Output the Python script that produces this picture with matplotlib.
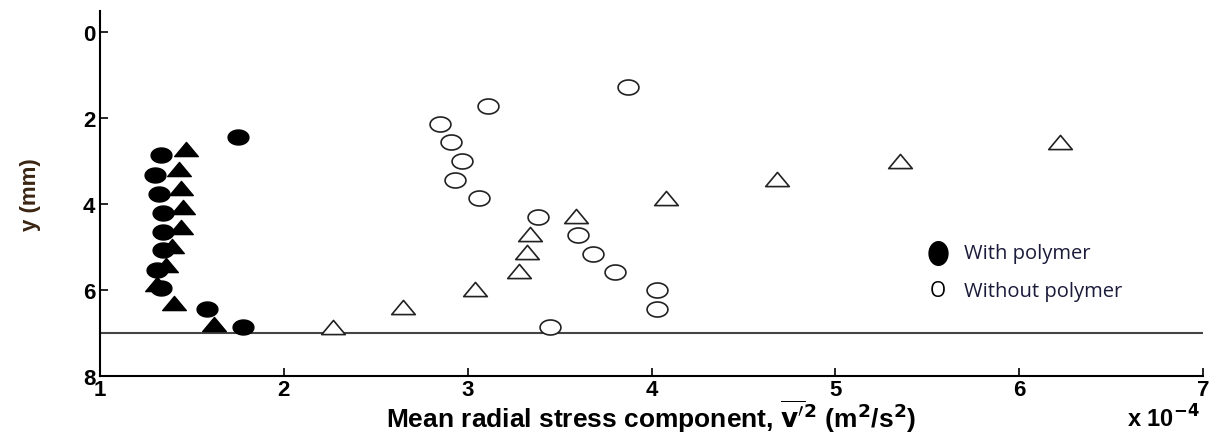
import matplotlib
matplotlib.use("Agg")
import matplotlib.pyplot as plt
import numpy as np
from matplotlib.path import Path

# with polymer, circles
wp_circ_x = [1.75, 1.33, 1.30, 1.32, 1.34, 1.34, 1.34, 1.31, 1.33, 1.58, 1.78]
wp_circ_y = [2.44, 2.86, 3.32, 3.75, 4.20, 4.64, 5.07, 5.53, 5.96, 6.43, 6.87]
# with polymer, triangles
wp_tri_x = [1.47, 1.43, 1.44, 1.45, 1.44, 1.39, 1.36, 1.31, 1.40, 1.62]
wp_tri_y = [2.72, 3.19, 3.63, 4.07, 4.53, 4.97, 5.41, 5.86, 6.30, 6.80]
# without polymer, circles
np_circ_x = [3.87, 3.11, 2.85, 2.91, 2.97, 2.93, 3.06, 3.38, 3.60, 3.68, 3.80, 4.03, 4.03, 3.45]
np_circ_y = [1.28, 1.72, 2.14, 2.56, 3.00, 3.44, 3.86, 4.30, 4.72, 5.16, 5.58, 6.00, 6.44, 6.87]
# without polymer, triangles
np_tri_x = [2.27, 2.65, 3.04, 3.28, 3.32, 3.34, 3.59, 4.08, 4.68, 5.35, 6.22]
np_tri_y = [6.87, 6.40, 5.98, 5.55, 5.12, 4.70, 4.27, 3.85, 3.42, 3.00, 2.56]

wall_y = 7
x_ticks = [1, 2, 3, 4, 5, 6, 7]
y_ticks = [0, 2, 4, 6, 8]

# squashed markers, the original picture is stretched sideways
t = np.linspace(0, 2 * np.pi, 60)
ellipse = Path(np.column_stack([np.cos(t), 0.72 * np.sin(t)]), closed=True)
flat_tri = Path([(-1, -0.6), (1, -0.6), (0, 0.6), (-1, -0.6)], closed=True)

fig = plt.figure(figsize=(12.17, 4.35), dpi=100)
ax = fig.add_axes([0.0822, 0.1333, 0.9063, 0.8391])

ax.axhline(wall_y, color="#444444", lw=1.5, zorder=1)

ax.plot(wp_circ_x, wp_circ_y, marker=ellipse, color="black", ms=15, ls="none")
ax.plot(wp_tri_x, wp_tri_y, marker=flat_tri, color="black", ms=17, ls="none")
ax.plot(np_circ_x, np_circ_y, marker=ellipse, mfc="white", mec="#222222", mew=1.2,
        ms=15, ls="none")
ax.plot(np_tri_x, np_tri_y, marker=flat_tri, mfc="white", mec="#222222", mew=1.2,
        ms=17, ls="none")

ax.set_xlim(1, 7)
ax.set_ylim(8, -0.5)
ax.set_xticks(x_ticks)
ax.set_yticks(y_ticks)
ax.tick_params(direction="in", length=6, width=1.2, labelsize=16)
ax.tick_params(axis="x", pad=2)
for lab in ax.get_xticklabels() + ax.get_yticklabels():
    lab.set_fontweight("bold")
    lab.set_family("Liberation Sans")
ax.spines["top"].set_visible(False)
ax.spines["right"].set_visible(False)
ax.spines["left"].set_linewidth(1.5)
ax.spines["bottom"].set_linewidth(1.5)

ax.set_ylabel("y (mm)", fontsize=16, fontweight="bold", color="#3a2412",
              family="Liberation Sans", labelpad=30)
fig.text(0.535, 0.016,
         r"Mean radial stress component, $\overline{\mathbf{v}'}^{\mathbf{2}}$ (m$^\mathbf{2}$/s$^\mathbf{2}$)",
         fontsize=19, fontweight="bold", family="Liberation Sans",
         ha="center", va="baseline")
fig.text(0.926, 0.016, r"x 10$^{\mathbf{-4}}$", fontsize=17, fontweight="bold",
         family="Liberation Sans", va="baseline")

# legend drawn as text and markers
ax.plot([5.56], [5.14], marker=Path(np.column_stack([0.8 * np.cos(t), np.sin(t)]), closed=True),
        color="black", ms=17, ls="none")
ax.text(5.56, 6.02, "O", fontsize=15, ha="center", va="center", family="Open Sans")
ax.text(5.70, 5.14, "With polymer", fontsize=14.5, va="center", family="Open Sans",
        color="#1a1a3a")
ax.text(5.70, 6.02, "Without polymer", fontsize=14.5, va="center", family="Open Sans",
        color="#1a1a3a")

fig.savefig("out.png", dpi=100)
